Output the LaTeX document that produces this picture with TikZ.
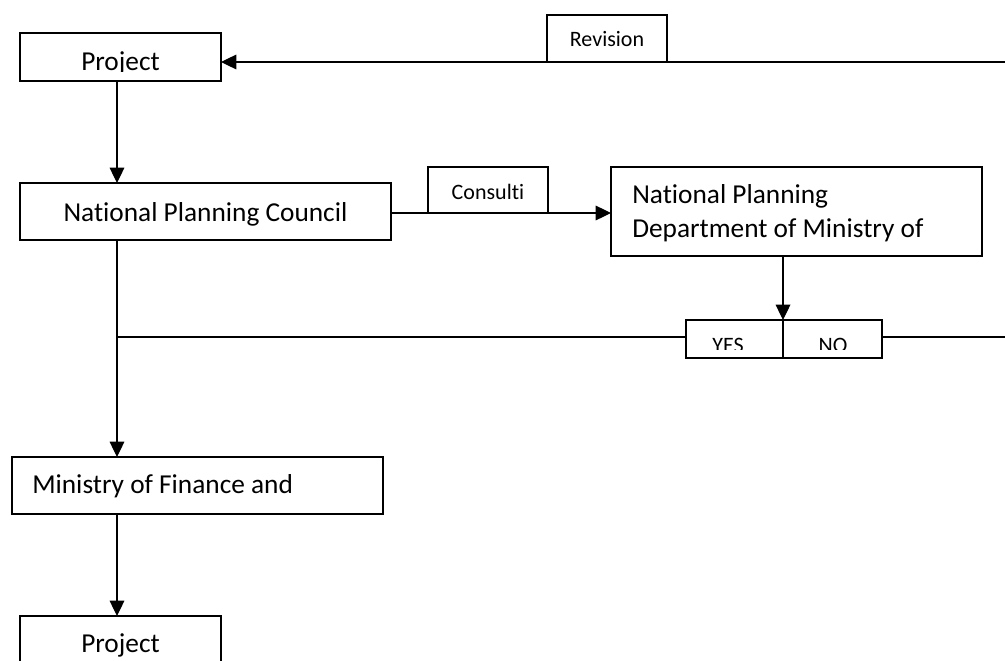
\documentclass[tikz,border=0pt]{standalone}
\usepackage{fontspec}
\setmainfont[RawFeature=-liga]{Carlito}
\usetikzlibrary{arrows.meta}
\begin{document}
\begin{tikzpicture}[x=0.75pt,y=-0.75pt,
  box/.style={draw, line width=1pt, anchor=north west, inner sep=0pt, outer sep=0pt},
  conn/.style={line width=0.9pt},
  arr/.style={conn, -{Triangle[length=11.5pt,width=11pt]}},
  big/.style={font=\fontsize{20.5pt}{25pt}\selectfont, inner sep=0pt},
  small/.style={font=\fontsize{16.5pt}{19pt}\selectfont, inner sep=0pt}]
\clip (0,0) rectangle (1005,660);
\fill[white] (0,0) rectangle (1005,660);
% boxes
\node[box, minimum width=201*0.75pt, minimum height=48*0.75pt] (p1) at (20,33) {};
\node[box, fill=white, minimum width=120*0.75pt, minimum height=47*0.75pt] (rev) at (547,15) {};
\node[box, minimum width=371*0.75pt, minimum height=57*0.75pt] (npc) at (20,183) {};
\node[box, fill=white, minimum width=120*0.75pt, minimum height=46*0.75pt] (cons) at (428,167) {};
\node[box, minimum width=371*0.75pt, minimum height=89*0.75pt] (npd) at (611,167) {};
\node[box, minimum width=97*0.75pt, minimum height=38*0.75pt] (yes) at (686,320) {};
\node[box, minimum width=99*0.75pt, minimum height=38*0.75pt] (no) at (783,320) {};
\node[box, minimum width=371*0.75pt, minimum height=57*0.75pt] (min) at (12,457) {};
\node[box, minimum width=201*0.75pt, minimum height=60*0.75pt] (p2) at (20,616) {};
% coordinates
\coordinate (c117) at (117,0);
\coordinate (r1) at (1005,62);
\coordinate (j1) at (117,337);
\coordinate (r2) at (1005,337);
% connectors
\draw[arr] (r1) -- (r1 -| p1.east);
\draw[arr] (p1.south -| c117) -- (npc.north -| c117);
\draw[arr] (npc.east |- cons.south) -- (npd.west |- cons.south);
\draw[arr] (npd.south -| no.west) -- (no.north west);
\draw[conn] (npc.south -| c117) -- (j1);
\draw[arr] (j1) -- (min.north -| c117);
\draw[conn] (j1) -- (j1 -| yes.west);
\draw[conn] (no.east |- j1) -- (r2);
\draw[arr] (min.south -| c117) -- (p2.north -| c117);
% texts
\begin{scope}
\clip (20,33) rectangle (221,72);
\node[big, anchor=base] (tp1) at (120.5,70) {Project};
\end{scope}
\node[small, anchor=base] (trev) at (607,47) {Revision};
\node[big, anchor=base] (tnpc) at (205.5,221) {National Planning Council};
\node[small, anchor=base] (tcons) at (488,199) {Consulti};
\node[big, anchor=base west] (tnpd1) at (632,203) {National Planning};
\node[big, anchor=base west] (tnpd2) at (632,237) {Department of Ministry of};
\begin{scope}
\clip (686,320) rectangle (882,349.5);
\node[small, anchor=base] (tyes) at (728,352) {YES};
\node[small, anchor=base] (tno) at (833,352) {NO};
\end{scope}
\node[big, anchor=base west] (tmin) at (32,493) {Ministry of Finance and};
\node[big, anchor=base] (tp2) at (120.5,652) {Project};
\end{tikzpicture}
\end{document}
